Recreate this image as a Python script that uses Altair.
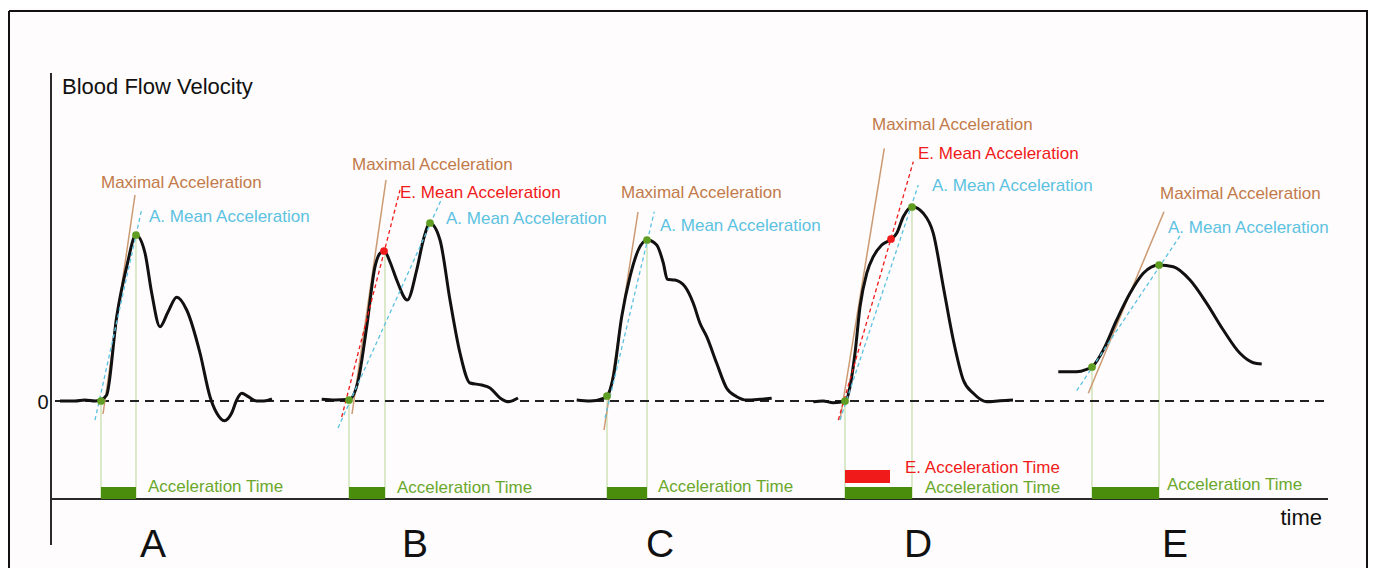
import altair as alt
import pandas as pd

FONT = "Liberation Sans"

# ---- waveform samples (image pixel coordinates) ----
wave_A_x = [60, 75, 85, 95, 100.7, 106.7, 116.7, 126.7, 136, 145, 151.7, 160, 168, 176.7, 186.7, 200, 210, 216.7, 224.3, 231.7, 236.7, 241.7, 248.3, 256.7, 264, 272]
wave_A_y = [401, 401, 400, 401, 400, 395, 316.7, 266.7, 235, 253, 293, 326.7, 312, 297.3, 310, 353, 396.7, 413, 420.7, 413, 400, 393.3, 396.7, 401, 401, 399]
wave_B_x = [321.7, 335, 349.3, 358.3, 366.7, 375, 380, 384.3, 390, 396.7, 407.3, 416.7, 423.3, 430, 440, 450, 460, 470, 481.7, 490, 500, 508, 518]
wave_B_y = [399.3, 400, 399.3, 380, 326.7, 266.7, 253.3, 251, 262, 280, 300, 270, 240, 223.3, 240, 300, 353, 383, 385, 388, 398, 401.7, 398]
wave_C_x = [576.7, 590, 603.3, 607.3, 613.3, 621.7, 630, 638.3, 647.3, 656.7, 663.3, 667.3, 675, 685, 693.3, 700, 706.7, 716.7, 726.7, 736.7, 746.7, 760, 771.7]
wave_C_y = [400, 401, 398.3, 395.7, 376.7, 316.7, 276.7, 250, 240, 245, 263, 279.3, 280, 286.7, 303.3, 323.3, 336.7, 363.3, 388.3, 396.7, 400, 399.3, 398.3]
wave_D_x = [813.3, 823, 833.3, 845.7, 850, 855, 860, 866.7, 873.3, 881.7, 891, 896.7, 903.3, 912.3, 923.3, 933.3, 943.3, 953.3, 963.3, 973.3, 986.7, 1000, 1013]
wave_D_y = [401.7, 401, 402.7, 401, 386.7, 353.3, 306.7, 273.3, 256.7, 245, 239.3, 233.3, 216.7, 206.7, 213.3, 233.3, 286.7, 340, 380, 393.3, 401.7, 400.7, 400]
wave_E_x = [1058.3, 1076.7, 1086.7, 1092.3, 1103.3, 1116.7, 1130, 1143.3, 1159, 1173.3, 1190, 1206.7, 1223.3, 1240, 1253.3, 1261.7]
wave_E_y = [371.7, 371.7, 369.3, 366.7, 350, 320, 293.3, 273.3, 265, 266.7, 280, 303.3, 330, 353.3, 362.7, 364]

waves = {"A": (wave_A_x, wave_A_y), "B": (wave_B_x, wave_B_y), "C": (wave_C_x, wave_C_y),
         "D": (wave_D_x, wave_D_y), "E": (wave_E_x, wave_E_y)}

# ---- tangent lines: (x1, y1, x2, y2, kind) ----
tan_kind = ["max", "amean", "max", "emean", "amean", "max", "amean", "max", "emean", "amean", "max", "amean"]
tan_x1 = [103, 95, 352, 341.7, 338, 604, 605, 840, 838.3, 840, 1088.3, 1076.7]
tan_y1 = [414, 420, 414, 417, 428, 430, 418, 420, 420, 420, 393.3, 390.7]
tan_x2 = [135, 142, 386, 400, 442, 638, 654.3, 884.3, 913.3, 918.3, 1164, 1181.7]
tan_y2 = [195, 208, 180, 190, 198, 212, 211.7, 148.3, 161.7, 185, 211.7, 233.3]

# ---- onset / peak markers ----
onset_x = [101, 349, 607, 845, 1092]
onset_y = [401, 400, 396, 401, 367]
peak_x = [136, 430, 647, 912, 1159]
peak_y = [235, 223, 240, 207, 265]
red_dot_x = [384, 891]
red_dot_y = [251, 239]

# vertical guides: (x, y top)
guide_x = [101, 136, 349, 385, 607, 647, 845, 912, 1092, 1159]
guide_y = [401, 235, 400, 251, 396, 240, 401, 207, 367, 265]

# acceleration time bars
bar_x1 = [101, 349, 607, 845, 1092]
bar_x2 = [136, 385, 647, 912, 1159]
red_bar = (845, 890)

# ---- labels ----
lab_text = ["Maximal Acceleration", "A. Mean Acceleration",
            "Maximal Acceleration", "E. Mean Acceleration", "A. Mean Acceleration",
            "Maximal Acceleration", "A. Mean Acceleration",
            "Maximal Acceleration", "E. Mean Acceleration", "A. Mean Acceleration",
            "Maximal Acceleration", "A. Mean Acceleration"]
lab_x = [101, 149, 352, 400, 446, 621, 660, 872, 918, 932, 1160, 1168]
lab_y = [183, 217, 165, 193, 219, 193, 226, 125, 154, 186, 194, 228]
acc_x = [148, 397, 658, 925, 1167]
acc_y = [487, 488, 487, 488, 485]
letters = ["A", "B", "C", "D", "E"]
letter_x = [153, 415, 660, 918, 1175]

BROWN_L, BROWN_T = "#cc9a72", "#c27a4a"
BLUE = "#5cc2e2"
RED = "#f01a1a"
GREEN_T, GREEN_B, GREEN_D, GREEN_G = "#6aa82c", "#4a8c0c", "#5f9e22", "#c4ddaa"
kind_color = {"max": BROWN_L, "amean": BLUE, "emean": RED}
text_color = {"Maximal Acceleration": BROWN_T, "A. Mean Acceleration": BLUE, "E. Mean Acceleration": RED}

W, H = 1360, 560
X0, Y0 = 8, 8
xs = alt.Scale(domain=[X0, X0 + W], nice=False, zero=False)
ys = alt.Scale(domain=[Y0, Y0 + H], nice=False, zero=False, reverse=True)

def X(f="x"):
    return alt.X(f"{f}:Q", scale=xs, axis=None)

def Y(f="y"):
    return alt.Y(f"{f}:Q", scale=ys, axis=None)

# tables
curve_rows = []
for k, (wx, wy) in waves.items():
    for i, (a, b) in enumerate(zip(wx, wy)):
        curve_rows.append({"wave": k, "i": i, "x": a, "y": b})
curves = pd.DataFrame(curve_rows)

tan = pd.DataFrame({"x": tan_x1, "y": tan_y1, "x2": tan_x2, "y2": tan_y2, "kind": tan_kind})
tan["color"] = tan["kind"].map(kind_color)

frame = pd.DataFrame({"x": [X0 + 1, X0 + 1, 1367], "y": [11, 11, 11],
                      "x2": [1369, X0 + 1, 1367], "y2": [11, 620, 620]})
axes_df = pd.DataFrame({"x": [51, 51], "y": [73, 499], "x2": [51, 1328], "y2": [545, 499]})
zero_df = pd.DataFrame({"x": [55], "y": [401], "x2": [1328], "y2": [401]})
guides = pd.DataFrame({"x": guide_x, "y": guide_y, "y2": [499] * len(guide_x)})
bars = pd.DataFrame({"x": bar_x1, "x2": bar_x2, "y": [487] * 5, "y2": [499] * 5})
rbar = pd.DataFrame({"x": [red_bar[0]], "x2": [red_bar[1]], "y": [470], "y2": [483]})
gdots = pd.DataFrame({"x": onset_x + peak_x, "y": onset_y + peak_y})
rdots = pd.DataFrame({"x": red_dot_x, "y": red_dot_y})

labels = pd.DataFrame({"x": lab_x, "y": lab_y, "t": lab_text})
labels["c"] = labels["t"].map(text_color)
acc = pd.DataFrame({"x": acc_x, "y": acc_y, "t": ["Acceleration Time"] * 5})
etime = pd.DataFrame({"x": [905], "y": [468], "t": ["E. Acceleration Time"]})
let_df = pd.DataFrame({"x": letter_x, "y": [545] * 5, "t": letters})
misc = pd.DataFrame({"x": [62], "y": [87], "t": ["Blood Flow Velocity"]})
timel = pd.DataFrame({"x": [1322], "y": [518], "t": ["time"]})
zerol = pd.DataFrame({"x": [43], "y": [403], "t": ["0"]})

layers = [
    alt.Chart(frame).mark_rule(color="#111", strokeWidth=2).encode(x=X(), y=Y(), x2="x2:Q", y2="y2:Q"),
    alt.Chart(guides).mark_rule(color=GREEN_G, strokeWidth=1.2).encode(x=X(), y=Y(), y2="y2:Q"),
    alt.Chart(axes_df).mark_rule(color="#2a2a2a", strokeWidth=2).encode(x=X(), y=Y(), x2="x2:Q", y2="y2:Q"),
    alt.Chart(zero_df).mark_rule(color="#222", strokeWidth=2, strokeDash=[9, 6]).encode(x=X(), y=Y(), x2="x2:Q", y2="y2:Q"),
    alt.Chart(bars).mark_rect(color=GREEN_B).encode(x=X(), x2="x2:Q", y=Y(), y2="y2:Q"),
    alt.Chart(rbar).mark_rect(color=RED).encode(x=X(), x2="x2:Q", y=Y(), y2="y2:Q"),
    alt.Chart(tan[tan.kind == "max"]).mark_rule(strokeWidth=1.5).encode(
        x=X(), y=Y(), x2="x2:Q", y2="y2:Q", color=alt.Color("color:N", scale=None)),
    alt.Chart(curves).mark_line(color="#111", strokeWidth=3, interpolate="monotone").encode(
        x=X(), y=Y(), detail="wave:N", order="i:Q"),
    alt.Chart(tan[tan.kind != "max"]).mark_rule(strokeWidth=1.3, strokeDash=[4, 3]).encode(
        x=X(), y=Y(), x2="x2:Q", y2="y2:Q", color=alt.Color("color:N", scale=None)),
    alt.Chart(gdots).mark_circle(color=GREEN_D, size=60, opacity=1).encode(x=X(), y=Y()),
    alt.Chart(rdots).mark_circle(color=RED, size=60, opacity=1).encode(x=X(), y=Y()),
    alt.Chart(labels).mark_text(font=FONT, fontSize=17, align="left", baseline="middle").encode(
        x=X(), y=Y(), text="t:N", color=alt.Color("c:N", scale=None)),
    alt.Chart(acc).mark_text(font=FONT, fontSize=17, align="left", baseline="middle", color=GREEN_T).encode(
        x=X(), y=Y(), text="t:N"),
    alt.Chart(etime).mark_text(font=FONT, fontSize=17, align="left", baseline="middle", color=RED).encode(
        x=X(), y=Y(), text="t:N"),
    alt.Chart(let_df).mark_text(font=FONT, fontSize=39, align="center", baseline="middle", color="#111").encode(
        x=X(), y=Y(), text="t:N"),
    alt.Chart(misc).mark_text(font=FONT, fontSize=22, align="left", baseline="middle", color="#111").encode(
        x=X(), y=Y(), text="t:N"),
    alt.Chart(timel).mark_text(font=FONT, fontSize=22, align="right", baseline="middle", color="#111").encode(
        x=X(), y=Y(), text="t:N"),
    alt.Chart(zerol).mark_text(font=FONT, fontSize=20, align="center", baseline="middle", color="#111").encode(
        x=X(), y=Y(), text="t:N"),
]

chart = alt.layer(*layers).properties(
    width=W, height=H, padding=0, autosize=alt.AutoSizeParams(type="none"),
    background="#fefcfc",
).configure_view(stroke=None)

chart.save("out.html", embed_options={"renderer": "svg", "actions": False})
